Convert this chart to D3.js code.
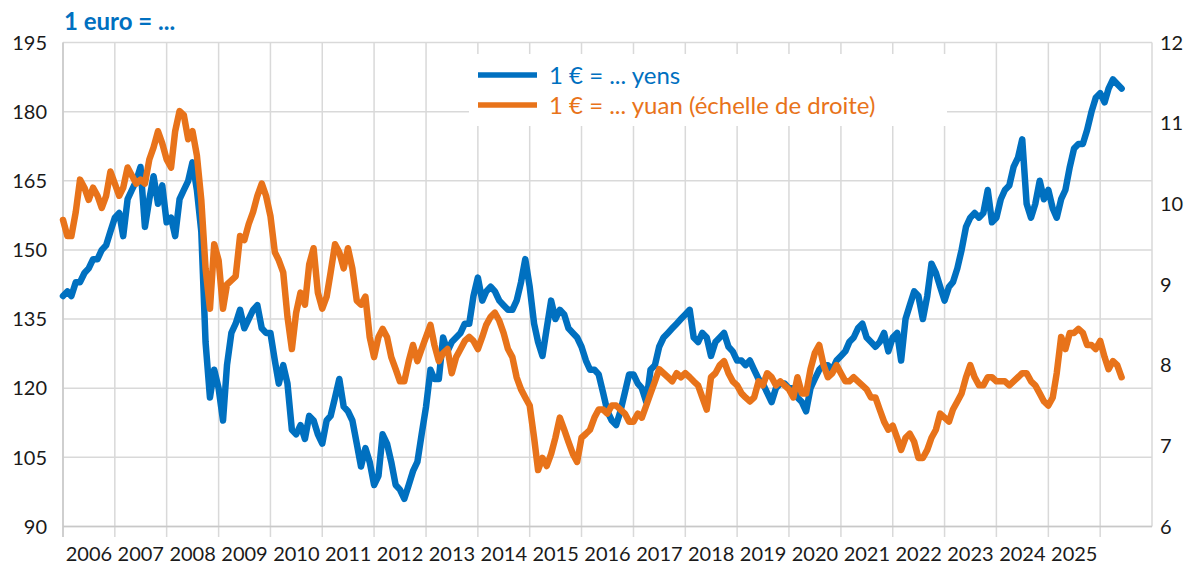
<!DOCTYPE html>
<html>
<head>
<meta charset="utf-8">
<script src="https://cdn.jsdelivr.net/npm/d3@7"></script>
<style>
  html, body { margin: 0; padding: 0; background: #fff; }
  svg { display: block; font-family: Lato, "Open Sans", sans-serif; }
</style>
</head>
<body>
<svg id="chart" width="1187" height="566"></svg>
<script>
// Monthly exchange rates, first month Jan 2006, last month Jun 2026
const firstMonth = new Date(2006, 0, 1);
const lastMonth = new Date(2026, 5, 1);

// 1 € = ... yens (left axis)
const yen = [
  140, 141, 140, 143, 143, 145, 146, 148, 148, 150, 151, 154, // 2006
  157, 158, 153, 161, 163, 165, 168, 155, 161, 166, 160, 164, // 2007
  156, 157, 153, 161, 163, 165, 169, 163, 154, 130, 118, 124, // 2008
  120, 113, 125, 132, 134, 137, 133, 135, 137, 138, 133, 132, // 2009
  132, 126, 121, 125, 121, 111, 110, 112, 109, 114, 113, 110, // 2010
  108, 113, 114, 118, 122, 116, 115, 113, 108, 103, 107, 104, // 2011
  99, 101, 110, 108, 104, 99, 98, 96, 99, 102, 104, 110,      // 2012
  116, 124, 122, 122, 131, 128, 130, 131, 132, 134, 134, 140, // 2013
  144, 139, 141, 142, 141, 139, 138, 137, 137, 139, 143, 148, // 2014
  142, 134, 130, 127, 133, 139, 135, 137, 136, 133, 132, 131, // 2015
  129, 126, 124, 124, 123, 119, 115, 113, 112, 115, 119, 123, // 2016
  123, 121, 120, 117, 124, 125, 129, 131, 132, 133, 134, 135, // 2017
  136, 137, 131, 130, 132, 131, 127, 130, 131, 132, 129, 128, // 2018
  126, 126, 125, 126, 124, 122, 121, 119, 117, 120, 121, 121, // 2019
  120, 120, 118, 117, 115, 120, 122, 124, 125, 125, 124, 126, // 2020
  127, 128, 130, 131, 133, 134, 131, 130, 129, 130, 132, 128, // 2021
  131, 132, 126, 135, 138, 141, 140, 135, 140, 147, 145, 142, // 2022
  139, 142, 143, 146, 150, 155, 157, 158, 157, 158, 163, 156, // 2023
  157, 161, 163, 164, 168, 170, 174, 160, 157, 160, 165, 161, // 2024
  163, 159, 157, 161, 163, 168, 172, 173, 173, 176, 180, 183, // 2025
  184, 182, 185, 187, 186, 185                                // 2026
];

// 1 € = ... yuan (right axis)
const yuan = [
  9.8, 9.6, 9.6, 9.9, 10.3, 10.2, 10.05, 10.2, 10.1, 9.95, 10.1, 10.4,      // 2006
  10.25, 10.1, 10.2, 10.45, 10.35, 10.25, 10.3, 10.25, 10.55, 10.7, 10.9, 10.75, // 2007
  10.55, 10.45, 10.9, 11.15, 11.1, 10.8, 10.9, 10.6, 10.05, 9.2, 8.7, 9.5,  // 2008
  9.3, 8.7, 9.0, 9.05, 9.1, 9.6, 9.55, 9.75, 9.9, 10.1, 10.25, 10.1,        // 2009
  9.85, 9.4, 9.3, 9.15, 8.6, 8.2, 8.65, 8.9, 8.75, 9.25, 9.45, 8.9,         // 2010
  8.7, 8.85, 9.15, 9.5, 9.4, 9.2, 9.45, 9.2, 8.8, 8.75, 8.85, 8.35,         // 2011
  8.1, 8.35, 8.45, 8.35, 8.1, 7.95, 7.8, 7.8, 8.05, 8.25, 8.05, 8.2,        // 2012
  8.35, 8.5, 8.25, 8.05, 8.15, 8.2, 7.9, 8.1, 8.2, 8.3, 8.35, 8.3,          // 2013
  8.2, 8.35, 8.5, 8.6, 8.65, 8.55, 8.4, 8.2, 8.1, 7.85, 7.7, 7.6,           // 2014
  7.5, 7.1, 6.7, 6.85, 6.75, 6.9, 7.1, 7.35, 7.2, 7.05, 6.9, 6.8,           // 2015
  7.1, 7.15, 7.2, 7.35, 7.45, 7.45, 7.4, 7.5, 7.5, 7.45, 7.4, 7.3,          // 2016
  7.3, 7.4, 7.35, 7.5, 7.65, 7.8, 7.95, 7.9, 7.85, 7.8, 7.9, 7.85,          // 2017
  7.9, 7.85, 7.8, 7.75, 7.6, 7.45, 7.85, 7.9, 8.0, 8.05, 7.9, 7.8,          // 2018
  7.75, 7.65, 7.6, 7.55, 7.6, 7.8, 7.75, 7.9, 7.85, 7.75, 7.8, 7.75,        // 2019
  7.7, 7.6, 7.85, 7.65, 7.65, 7.95, 8.15, 8.25, 8.0, 7.85, 7.9, 8.0,        // 2020
  7.9, 7.8, 7.8, 7.85, 7.8, 7.75, 7.7, 7.6, 7.6, 7.45, 7.3, 7.2,            // 2021
  7.25, 7.1, 6.95, 7.1, 7.15, 7.05, 6.85, 6.85, 6.95, 7.1, 7.2, 7.4,        // 2022
  7.35, 7.3, 7.45, 7.55, 7.65, 7.85, 8.0, 7.85, 7.75, 7.75, 7.85, 7.85,     // 2023
  7.8, 7.8, 7.8, 7.75, 7.8, 7.85, 7.9, 7.9, 7.8, 7.75, 7.65, 7.55,          // 2024
  7.5, 7.6, 7.9, 8.35, 8.2, 8.4, 8.4, 8.45, 8.4, 8.25, 8.25, 8.2,           // 2025
  8.3, 8.1, 7.95, 8.05, 8.0, 7.85                                          // 2026
];

const yearLabels = d3.range(2006, 2026);          // one label per yearly slot
const leftTicks = [90, 105, 120, 135, 150, 165, 180, 195];
const rightTicks = [6, 7, 8, 9, 10, 11, 12];

const titleText = "1 euro = ...";
const seriesNames = ["1 € = ... yens", "1 € = ... yuan (échelle de droite)"];
const seriesColors = ["#0070C0", "#E8731A"];

const months = d3.timeMonth.range(firstMonth, d3.timeMonth.offset(lastMonth, 1));

const svg = d3.select("#chart");
const plot = { left: 63, right: 1152, top: 42.5, bottom: 526.5 };

const x = d3.scaleTime()
  .domain([new Date(2006, 0, 1), new Date(2027, 0, 1)])
  .range([plot.left, plot.right]);
const yL = d3.scaleLinear().domain([90, 195]).range([plot.bottom, plot.top]);
const yR = d3.scaleLinear().domain([6, 12]).range([plot.bottom, plot.top]);

const gridColor = "#d9d9d9";

// horizontal gridlines
svg.append("g")
  .selectAll("line")
  .data(leftTicks)
  .join("line")
  .attr("x1", plot.left).attr("x2", plot.right)
  .attr("y1", d => yL(d)).attr("y2", d => yL(d))
  .attr("stroke", gridColor).attr("stroke-width", 1.5);

// vertical gridlines at year boundaries, with ticks below the axis
const yearBounds = d3.timeYear.range(new Date(2006, 0, 1), new Date(2027, 0, 2));
svg.append("g")
  .selectAll("line")
  .data(yearBounds)
  .join("line")
  .attr("x1", d => x(d)).attr("x2", d => x(d))
  .attr("y1", plot.top)
  .attr("y2", d => d.getFullYear() <= 2026 ? plot.bottom + 10.5 : plot.bottom)
  .attr("stroke", gridColor).attr("stroke-width", 1.5);

// axis lines
svg.append("line")
  .attr("x1", plot.left).attr("x2", plot.left)
  .attr("y1", plot.top).attr("y2", plot.bottom + 10.5)
  .attr("stroke", "#c8c8c8").attr("stroke-width", 1.5);
svg.append("line")
  .attr("x1", plot.left).attr("x2", plot.right)
  .attr("y1", plot.bottom).attr("y2", plot.bottom)
  .attr("stroke", "#c8c8c8").attr("stroke-width", 1.5);

// left axis labels
svg.append("g")
  .selectAll("text")
  .data(leftTicks)
  .join("text")
  .attr("x", 47).attr("y", d => yL(d))
  .attr("dy", "0.36em")
  .attr("text-anchor", "end")
  .attr("font-size", 20).attr("fill", "#1a1a1a")
  .text(d => d);

// right axis labels
svg.append("g")
  .selectAll("text")
  .data(rightTicks)
  .join("text")
  .attr("x", 1160).attr("y", d => yR(d))
  .attr("dy", "0.36em")
  .attr("text-anchor", "start")
  .attr("font-size", 20).attr("fill", "#1a1a1a")
  .text(d => d);

// year labels, centred in each yearly slot
svg.append("g")
  .selectAll("text")
  .data(yearLabels)
  .join("text")
  .attr("x", d => (x(new Date(d, 0, 1)) + x(new Date(d + 1, 0, 1))) / 2)
  .attr("y", 561)
  .attr("text-anchor", "middle")
  .attr("font-size", 20).attr("fill", "#1a1a1a")
  .text(d => d);

// series lines
const lineYen = d3.line()
  .x((d, i) => x(months[i]))
  .y(d => yL(d));
const lineYuan = d3.line()
  .x((d, i) => x(months[i]))
  .y(d => yR(d));

svg.append("path")
  .datum(yen)
  .attr("d", lineYen)
  .attr("fill", "none")
  .attr("stroke", seriesColors[0])
  .attr("stroke-width", 6.5)
  .attr("stroke-linejoin", "round")
  .attr("stroke-linecap", "round");

svg.append("path")
  .datum(yuan)
  .attr("d", lineYuan)
  .attr("fill", "none")
  .attr("stroke", seriesColors[1])
  .attr("stroke-width", 6.5)
  .attr("stroke-linejoin", "round")
  .attr("stroke-linecap", "round");

// legend on a white panel
const legend = svg.append("g");
legend.append("rect")
  .attr("x", 469).attr("y", 54)
  .attr("width", 478).attr("height", 72)
  .attr("fill", "#fff");
seriesNames.forEach((name, i) => {
  const cy = 75 + i * 30;
  legend.append("line")
    .attr("x1", 478).attr("x2", 537)
    .attr("y1", cy).attr("y2", cy)
    .attr("stroke", seriesColors[i]).attr("stroke-width", 5.5);
  legend.append("text")
    .attr("x", 549).attr("y", cy)
    .attr("dy", "0.36em")
    .attr("font-size", 24)
    .attr("fill", seriesColors[i])
    .text(name);
});

// title
svg.append("text")
  .attr("x", 64).attr("y", 30)
  .attr("font-size", 24).attr("font-weight", "bold")
  .attr("fill", seriesColors[0])
  .text(titleText);
</script>
</body>
</html>
